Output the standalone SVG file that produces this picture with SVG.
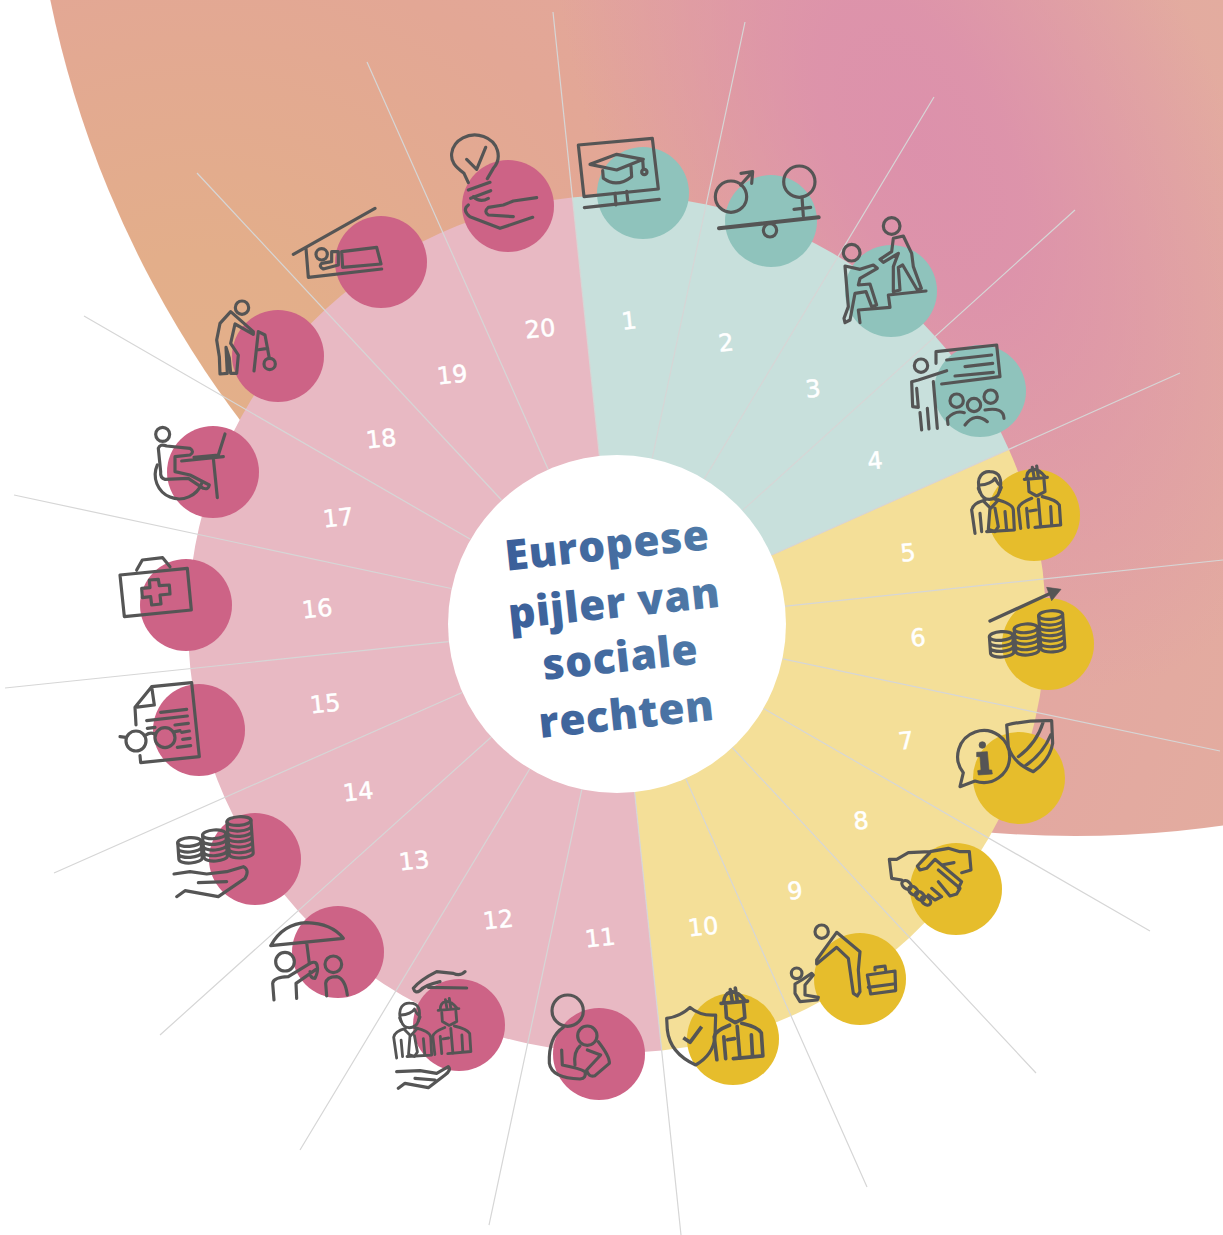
<svg xmlns="http://www.w3.org/2000/svg" xmlns:xlink="http://www.w3.org/1999/xlink" width="1223" height="1235" viewBox="0 0 1223 1235">
<style>
.i{fill:none;stroke:#555;stroke-width:9.5;stroke-linecap:round;stroke-linejoin:round}
.f{fill:#555;stroke:#555;stroke-width:2;stroke-linejoin:round}
.sp{stroke:#d6d6d6;stroke-width:1.2;fill:none}
.c{fill:#8fc3bc}.p{fill:#cd6386}.y{fill:#e6bd2c}
.n{font-family:"DejaVu Sans","Open Sans",sans-serif;font-size:24px;fill:#fff;stroke:#fff;stroke-width:.5px;text-anchor:middle}
.h{font-family:"Open Sans","Noto Sans",sans-serif;font-weight:800;font-size:42.5px;letter-spacing:.6px;fill:url(#tg);text-anchor:middle}
</style>
<defs>
<radialGradient id="bg" gradientUnits="userSpaceOnUse" cx="200" cy="420" r="1110">
<stop offset="0" stop-color="#e3b08a"/><stop offset=".15" stop-color="#e3ae8a"/><stop offset=".42" stop-color="#e3a795"/><stop offset=".72" stop-color="#e3a6a2"/><stop offset="1" stop-color="#e3ac9f"/>
</radialGradient>
<radialGradient id="pk" gradientUnits="userSpaceOnUse" cx="0" cy="0" r="1" gradientTransform="translate(920,150) rotate(64) scale(580,300)">
<stop offset="0" stop-color="#dc90ac" stop-opacity=".95"/><stop offset=".28" stop-color="#dc90ac" stop-opacity=".85"/><stop offset=".65" stop-color="#dc90ac" stop-opacity=".4"/><stop offset="1" stop-color="#dc90ac" stop-opacity="0"/>
</radialGradient>
<linearGradient id="tg" gradientUnits="userSpaceOnUse" x1="505" y1="640" x2="720" y2="620">
<stop offset="0" stop-color="#3a5e99"/><stop offset="1" stop-color="#507ba8"/>
</linearGradient>
<g id="manager" class="i">
<path d="M450,845C435,800 460,783 480,785C510,785 518,810 508,845C505,860 490,868 478,868C465,868 455,860 450,845Z"/>
<path d="M450,825C470,825 490,815 495,805C500,815 505,825 510,825M445,835l5,12M514,832l-6,14"/>
<path d="M435,970L425,900Q428,880 465,870M495,868Q548,880 550,900L553,960L470,965"/>
<path d="M480,895L475,958L495,965L505,950L495,895M462,875L482,895L505,870"/>
<path d="M450,910L455,965M525,905L530,960"/>
</g>
<g id="worker" class="i">
<path d="M583,808L652,802M590,805C590,780 615,762 645,800M607,772L612,800M620,768L625,800"/>
<path d="M595,815L597,845L620,858L645,845L642,810"/>
<path d="M572,955L565,895Q567,880 605,865M637,860Q680,870 688,885L692,945L615,952"/>
<path d="M625,868L632,950M590,895L595,952M662,890L665,945M600,903L618,900"/>
</g>
<g id="coins" class="i">
<g transform="rotate(-4 365 195)"><ellipse cx="365" cy="168" rx="35" ry="13"/><path d="M330,168V218M400,168V218M330,185a35,13 0 0 0 70,0M330,201a35,13 0 0 0 70,0M330,218a35,13 0 0 0 70,0"/></g>
<g transform="rotate(-4 440 180)"><ellipse cx="440" cy="145" rx="35" ry="13"/><path d="M405,145V212M475,145V212M405,162a35,13 0 0 0 70,0M405,179a35,13 0 0 0 70,0M405,196a35,13 0 0 0 70,0M405,212a35,13 0 0 0 70,0"/></g>
<g transform="rotate(-4 515 150)"><ellipse cx="515" cy="105" rx="36" ry="13"/><path d="M479,105V203M551,105V203M479,122a36,13 0 0 0 72,0M479,138a36,13 0 0 0 72,0M479,154a36,13 0 0 0 72,0M479,170a36,13 0 0 0 72,0M479,187a36,13 0 0 0 72,0M479,203a36,13 0 0 0 72,0"/></g>
</g>
</defs>

<g id="backdrop"><circle cx="1075" cy="-210" r="1046" fill="url(#bg)"/><circle cx="1075" cy="-210" r="1046" fill="url(#pk)"/></g>
<g id="sectors">
<path d="M617,624L572.2,197.4A429,429 0 0 1 1008.9,449.5Z" fill="#c8e0dc"/>
<path d="M617,624L1008.9,449.5A429,429 0 0 1 661.8,1050.6Z" fill="#f4df98"/>
<path d="M617,624L661.8,1050.6A429,429 0 0 1 188,624A429,429 0 0 1 572.2,197.4Z" fill="#e8b9c3"/>
</g>
<g id="connectors">
<path class="sp" d="M599.4,455.7L553,12M652.2,458.4L745,22M704.2,479.1L934,97M742.9,510.1L1075,210M771.8,555L1180,373M783.7,606.4L1223,560M782.8,658.9L1220,751M763.6,708.4L1150,931M732.2,747.5L1036,1073M685.8,778.8L867,1187M634.6,792L681,1235M581.8,789.3L489,1225M529.8,768.7L300,1150M491.3,737L160,1035M462.2,692.5L54,873M448.7,641.6L5,688M451.2,588.5L14,495M470.4,539.3L84,316M501.5,500L197,173M548.2,469.5L367,62"/>
</g>

<g id="node-1"><circle class="c" cx="643" cy="193" r="46"/><text class="n" x="629" y="329" transform="rotate(-6 629 320)">1</text>
<g transform="translate(560,120) scale(.33333)" class="i"><path d="M55,75L277,55L295,207L72,230ZM165,220L168,255M200,214L204,248M73,263L298,238"/><path d="M90,133L170,103L250,118L170,150ZM128,152L130,175Q170,205 215,170L213,140M248,118L250,146"/><circle cx="253" cy="156" r="8"/></g></g>
<g id="node-2"><circle class="c" cx="771" cy="221" r="46"/><text class="n" x="726" y="351" transform="rotate(-6 726 342)">2</text>
<g transform="translate(560,120) scale(.33333)" class="i"><circle cx="513" cy="230" r="47"/><path d="M542,195L576,157M543,160L578,155L575,190"/><circle cx="718" cy="185" r="47"/><path d="M726,232L730,288M702,268L752,262"/><path d="M477,325L776,292" style="stroke-width:12"/><circle cx="630" cy="331" r="20"/></g></g>
<g id="node-3"><circle class="c" cx="891" cy="291" r="46"/><text class="n" x="813" y="397" transform="rotate(-6 813 388)">3</text>
<g transform="translate(830,210) scale(.33333)" class="i"><circle cx="185" cy="48" r="25"/><circle cx="65" cy="128" r="25"/>
<path d="M150,148L185,125L190,85L220,78L245,130L250,170L274,235L262,240L218,165L205,172L210,240L190,245L190,170L205,130L160,157Z"/>
<path d="M45,168L90,178L130,165L142,175L90,205L85,225L120,222L140,285L125,290L108,245L75,250L60,330L45,338L42,325L55,290Z"/>
<path d="M90,338L85,300L180,292L175,255L288,243"/></g></g>
<g id="node-4"><circle class="c" cx="980" cy="391" r="46"/><text class="n" x="875" y="469" transform="rotate(-6 875 460)">4</text>
<g transform="translate(830,210) scale(.33333)" class="i"><circle cx="273" cy="467" r="20"/>
<path d="M318,460L318,425L500,405L510,500L335,522M350,450L485,435M405,470L488,460M375,498L490,487"/>
<path d="M350,482L265,510L245,515L248,590L265,592L260,535M310,515L322,655M270,608L275,660M292,595L297,657"/>
<circle cx="380" cy="572" r="20"/><circle cx="432" cy="585" r="20"/><circle cx="482" cy="560" r="20"/>
<path d="M354,643L352,625Q375,600 403,608M405,645Q435,605 472,635M465,600Q520,590 522,625"/></g></g>
<g id="node-5"><circle class="y" cx="1034" cy="515" r="46"/><text class="n" x="908" y="561" transform="rotate(-6 908 552)">5</text>
<g transform="translate(830,210) scale(.33333)"><use href="#manager"/><use href="#worker"/></g></g>
<g id="node-6"><circle class="y" cx="1048" cy="644" r="46"/><text class="n" x="918" y="646" transform="rotate(-6 918 637)">6</text>
<g transform="translate(880,580) scale(.33333)"><use href="#coins"/><path class="i" style="stroke-width:10" d="M330,123L515,38"/><path class="f" d="M500,22L543,28L515,62Z"/></g></g>
<g id="node-7"><circle class="y" cx="1019" cy="778" r="46"/><text class="n" x="906" y="749" transform="rotate(-6 906 740)">7</text>
<g transform="translate(880,580) scale(.33333)"><path class="i" d="M285,603A78,78 0 1 0 250,578L240,620Z"/><circle class="f" cx="307" cy="495" r="10"/><path class="f" d="M290,517L322,515L327,570L335,570L337,582L295,585L293,572L303,570L300,530L290,530Z"/>
<path class="i" d="M380,435Q440,420 515,422L518,490Q510,540 460,575Q400,550 385,500ZM490,425Q470,490 415,530M512,465Q490,520 435,558"/></g></g>
<g id="node-8"><circle class="y" cx="956" cy="889" r="46"/><text class="n" x="861" y="829" transform="rotate(-6 861 820)">8</text>
<g transform="translate(880,580) scale(.33333)" class="i"><path d="M65,900L35,895L28,838L50,838L85,818L150,815L205,805L240,815L268,815L273,870L245,878M150,818L112,858L120,870L140,865L165,838L185,855L222,848M185,855L245,905L235,925M175,870L240,925L230,942L210,948L175,905M155,925L185,950L165,960L145,945"/>
<ellipse cx="80" cy="915" rx="16" ry="11" transform="rotate(40 80 915)"/><ellipse cx="100" cy="932" rx="16" ry="11" transform="rotate(40 100 932)"/><ellipse cx="120" cy="948" rx="16" ry="11" transform="rotate(40 120 948)"/><ellipse cx="138" cy="962" rx="16" ry="11" transform="rotate(40 138 962)"/></g></g>
<g id="node-9"><circle class="y" cx="860" cy="979" r="46"/><text class="n" x="795" y="899" transform="rotate(-6 795 890)">9</text>
<g transform="translate(530,910) scale(.33333)" class="i"><circle cx="875" cy="65" r="20"/><path d="M860,162L920,112L955,145L960,180L970,250L982,258L990,245L985,180L990,125L920,67L885,115L860,150Z"/><circle cx="800" cy="190" r="16"/><path d="M795,222L815,210L845,190L850,195L825,225L825,255L865,262L862,270L810,275L795,250Z"/><path d="M1012,195L1095,183L1097,242L1022,252ZM1035,180L1035,172L1065,168L1067,180M1015,232L1090,222"/></g></g>
<g id="node-10"><circle class="y" cx="733" cy="1039" r="46"/><text class="n" x="703" y="935" transform="rotate(-6 703 926)">10</text>
<g transform="translate(530,910) scale(.33333)"><use href="#worker" transform="translate(625,340) scale(1.15) translate(-628,-860)"/><path class="i" d="M410,325Q450,320 480,292Q510,318 557,315L555,380Q550,435 497,465Q420,430 412,360Z"/><path class="i" style="stroke-width:11;stroke-linecap:butt" d="M460,383L480,397L515,350"/></g></g>
<g id="node-11"><circle class="p" cx="599" cy="1054" r="46"/><text class="n" x="600" y="946" transform="rotate(-6 600 937)">11</text>
<g transform="translate(530,910) scale(.33333)" class="i"><circle cx="113" cy="302" r="47"/><circle cx="172" cy="377" r="29"/><path d="M100,352Q55,380 58,460Q65,505 150,507Q170,505 165,485Q150,475 97,465L95,420M205,395Q240,440 238,460L195,497Q175,503 170,480L212,435L172,420M135,465Q130,425 150,408"/></g></g>
<g id="node-12"><circle class="p" cx="459" cy="1025" r="46"/><text class="n" x="498" y="928" transform="rotate(-6 498 919)">12</text>
<g transform="translate(260,900) scale(.33333)"><use href="#manager" transform="translate(450,385) scale(.89) translate(-480,-870)"/><use href="#worker" transform="translate(575,378) scale(.9) translate(-628,-860)"/>
<path class="i" d="M615,215Q600,230 580,220L530,215Q480,240 460,265Q465,282 480,272Q495,255 540,245M505,262L620,264M410,515L480,512L530,520L565,500Q575,510 555,525L505,563L435,550L415,565M465,535L525,540"/></g></g>
<g id="node-13"><circle class="p" cx="338" cy="952" r="46"/><text class="n" x="414" y="869" transform="rotate(-6 414 860)">13</text>
<g transform="translate(260,900) scale(.33333)" class="i"><path d="M32,137Q70,70 140,68Q215,70 250,115ZM140,128L148,190"/><circle cx="75" cy="185" r="28"/><circle cx="220" cy="193" r="25"/><path d="M42,300L38,250Q40,232 85,230L150,190Q170,180 172,200Q175,215 165,235Q150,235 150,215M168,208L108,250L110,295M200,288L197,250Q200,230 230,230Q255,235 262,285"/></g></g>
<g id="node-14"><circle class="p" cx="255" cy="859" r="46"/><text class="n" x="358" y="800" transform="rotate(-6 358 791)">14</text>
<g transform="translate(110,550) scale(.33333)"><use href="#coins" transform="translate(-125,708)"/><path class="i" d="M192,972L240,965L290,972L350,965L400,950Q420,960 405,985L325,1040L225,1022L200,1040M265,998L350,995"/></g></g>
<g id="node-15"><circle class="p" cx="199" cy="730" r="46"/><text class="n" x="325" y="712" transform="rotate(-6 325 703)">15</text>
<g transform="translate(110,550) scale(.33333)" class="i"><path d="M78,525L75,472L125,410L245,398L268,620L92,638L90,617M125,410L133,465L75,472M152,487L230,478M110,512L232,498M112,535L135,532M195,525L235,520M215,547L238,543M218,568L240,565M202,592L242,587"/><circle cx="78" cy="573" r="30"/><circle cx="165" cy="563" r="30"/><path d="M108,555Q120,545 135,552M30,560L48,562M195,545L210,542"/></g></g>
<g id="node-16"><circle class="p" cx="186" cy="605" r="46"/><text class="n" x="317" y="617" transform="rotate(-6 317 608)">16</text>
<g transform="translate(110,550) scale(.33333)" class="i"><path d="M30,75L232,55L244,180L43,200ZM80,60L97,30L158,23L180,50"/><path d="M118,90L145,88L148,107L178,105L180,132L150,135L153,162L125,165L122,140L97,143L95,115L120,113Z"/></g></g>
<g id="node-17"><circle class="p" cx="213" cy="472" r="46"/><text class="n" x="338" y="526" transform="rotate(-6 338 517)">17</text>
<g transform="translate(140,200) scale(.33333)" class="i"><circle cx="68" cy="703" r="21"/><path d="M255,702L235,765L162,772M125,783L250,770M220,775L232,893M52,795A72,72 0 1 0 185,850"/><path d="M55,745Q60,730 80,738L150,745Q165,755 150,765L105,770L105,815L150,825L208,855Q205,870 190,865L145,835L75,838Q60,835 62,815Z"/></g></g>
<g id="node-18"><circle class="p" cx="278" cy="356" r="46"/><text class="n" x="381" y="447" transform="rotate(-6 381 438)">18</text>
<g transform="translate(140,200) scale(.33333)" class="i"><circle cx="306" cy="323" r="20"/><path d="M340,403L285,372L272,430L295,465L290,520L272,520L268,475L258,442L262,520L240,522L238,470L230,420L240,370L272,335L340,395Z"/><path d="M342,513L355,395L375,405L388,475M350,450L383,445"/><circle cx="389" cy="492" r="17"/></g></g>
<g id="node-19"><circle class="p" cx="381" cy="262" r="46"/><text class="n" x="452" y="383" transform="rotate(-6 452 374)">19</text>
<g transform="translate(280,120) scale(.33333)" class="i"><path d="M40,403L285,265M78,385L85,472L305,447"/><circle cx="125" cy="403" r="17"/><path d="M185,395L290,382L303,432L188,442ZM155,395L175,395L175,435L130,447Q115,440 125,430L155,425Z"/></g></g>
<g id="node-20"><circle class="p" cx="508" cy="206" r="46"/><text class="n" x="540" y="337" transform="rotate(-6 540 328)">20</text>
<g transform="translate(280,120) scale(.33333)" class="i"><path d="M565,188L552,160C525,140 512,125 515,100A70,62 0 1 1 640,145L622,176M560,118L590,148L617,82M565,210L630,187M572,235L632,212M580,230Q600,250 625,235M770,233L700,243L670,255L625,262Q610,275 625,285L700,290M565,255Q545,270 570,290L660,325L758,292"/></g></g>

<g id="hub"><circle cx="617" cy="624" r="169" fill="#fff"/>
<text class="h" x="607" y="560" transform="rotate(-6 607 545)">Europese</text>
<text class="h" x="614" y="618" transform="rotate(-6 614 603)">pijler van</text>
<text class="h" x="620" y="672" transform="rotate(-6 620 655)">sociale</text>
<text class="h" x="626" y="729" transform="rotate(-6 626 712)">rechten</text>
</g>
</svg>
